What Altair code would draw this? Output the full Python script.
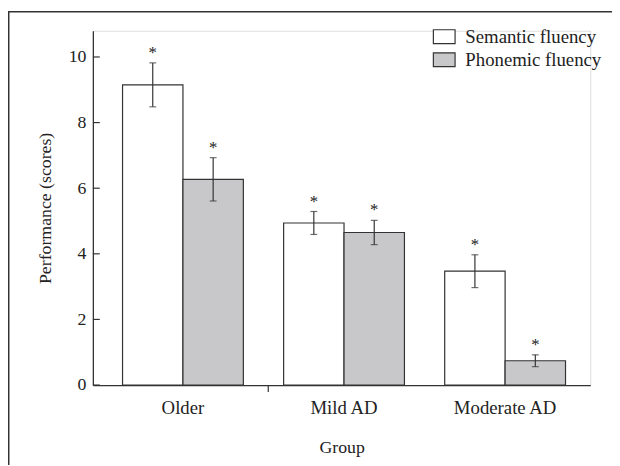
import altair as alt
import pandas as pd

groups = ["Older", "Mild AD", "Moderate AD"]
series = ["Semantic fluency", "Phonemic fluency"]
semantic_mean = [9.15, 4.94, 3.47]
semantic_err = [0.67, 0.35, 0.50]
phonemic_mean = [6.27, 4.65, 0.74]
phonemic_err = [0.66, 0.37, 0.18]
y_ticks = [0, 2, 4, 6, 8, 10]

rows = []
for i, g in enumerate(groups):
    rows.append(dict(group=g, series=series[0], mean=semantic_mean[i], err=semantic_err[i]))
    rows.append(dict(group=g, series=series[1], mean=phonemic_mean[i], err=phonemic_err[i]))
df = pd.DataFrame(rows)
df["lo"] = df["mean"] - df["err"]
df["hi"] = df["mean"] + df["err"]

FONT = "Liberation Serif"
INK = "#333333"
FS = 18

xscale = alt.Scale(domain=groups, paddingInner=0.25, paddingOuter=0.169, align=0.545)
xaxis = alt.Axis(
    title="Group", ticks=False, labelAngle=0, labelPadding=14, titlePadding=21,
    domainColor=INK, domainWidth=1.3, labelFont=FONT, labelFontSize=19,
    titleFont=FONT, titleFontSize=FS, titleFontWeight="normal",
    labelColor="#222", titleColor="#222")
yaxis = alt.Axis(
    values=y_ticks, ticks=False, grid=False, title="Performance (scores)",
    labelPadding=7, titlePadding=14, domainColor=INK, domainWidth=1.3,
    labelFont=FONT, labelFontSize=FS, titleFont=FONT, titleFontSize=FS,
    titleFontWeight="normal", labelColor="#222", titleColor="#222")
xoff = alt.XOffset("series:N", sort=series, scale=alt.Scale(domain=series, paddingInner=0, paddingOuter=0))
yscale = alt.Scale(domain=[0, 10.8], nice=False, zero=True)

def X():
    return alt.X("group:N", scale=xscale, axis=xaxis)

def Y(field):
    return alt.Y(field, scale=yscale, axis=yaxis)

base = alt.Chart(df)

bars = base.mark_bar(stroke=INK, strokeWidth=1.2).encode(
    x=X(), xOffset=xoff, y=Y("mean:Q"),
    color=alt.Color("series:N", scale=alt.Scale(domain=series, range=["#ffffff", "#c8c8ca"]),
                    legend=alt.Legend(
                        title=None, orient="none", legendX=344, legendY=-6,
                        symbolType="M-1,-0.636H1V0.636H-1Z", symbolSize=484,
                        symbolStrokeColor=INK, symbolStrokeWidth=1.2, symbolOpacity=1,
                        labelFont=FONT, labelFontSize=19, labelOffset=9.4,
                        labelColor="#222", rowPadding=1.4, padding=0)),
)

err_rule = base.mark_rule(color=INK, strokeWidth=1.2).encode(
    x=X(), xOffset=xoff, y=Y("lo:Q"), y2="hi:Q",
)
cap_hi = base.mark_tick(color=INK, thickness=1.2, size=7, orient="horizontal").encode(
    x=X(), xOffset=xoff, y=Y("hi:Q"),
)
cap_lo = base.mark_tick(color=INK, thickness=1.2, size=7, orient="horizontal").encode(
    x=X(), xOffset=xoff, y=Y("lo:Q"),
)
stars = base.mark_text(text="*", font=FONT, fontSize=17, color="#222",
                       baseline="alphabetic", dy=-5).encode(
    x=X(), xOffset=xoff, y=Y("hi:Q"),
)

yt = alt.Chart(pd.DataFrame({"v": y_ticks})).mark_rule(color=INK, strokeWidth=1.2).encode(
    y=Y("v:Q"), x=alt.value(0), x2=alt.value(7),
)

one = alt.Chart(pd.DataFrame({"a": [0]}))
xt = one.mark_rule(color=INK, strokeWidth=1.2).encode(
    x=alt.value(177.7), y=alt.value(359), y2=alt.value(366))
frame_top = one.mark_rule(color=INK, strokeWidth=1.5).encode(
    x=alt.value(-86), x2=alt.value(540), y=alt.value(-19.25))
frame_left = one.mark_rule(color=INK, strokeWidth=1.5).encode(
    x=alt.value(-85.25), y=alt.value(-20), y2=alt.value(440))

chart = alt.layer(bars, err_rule, cap_hi, cap_lo, stars, yt, xt, frame_top, frame_left).properties(
    width=504, height=359,
    padding={"left": 86, "top": 20, "right": 22, "bottom": 79},
    autosize=alt.AutoSizeParams(type="none"),
).configure_view(stroke=None).configure(background="white")

chart.save("out.html", embed_options={"renderer": "svg", "actions": False})
